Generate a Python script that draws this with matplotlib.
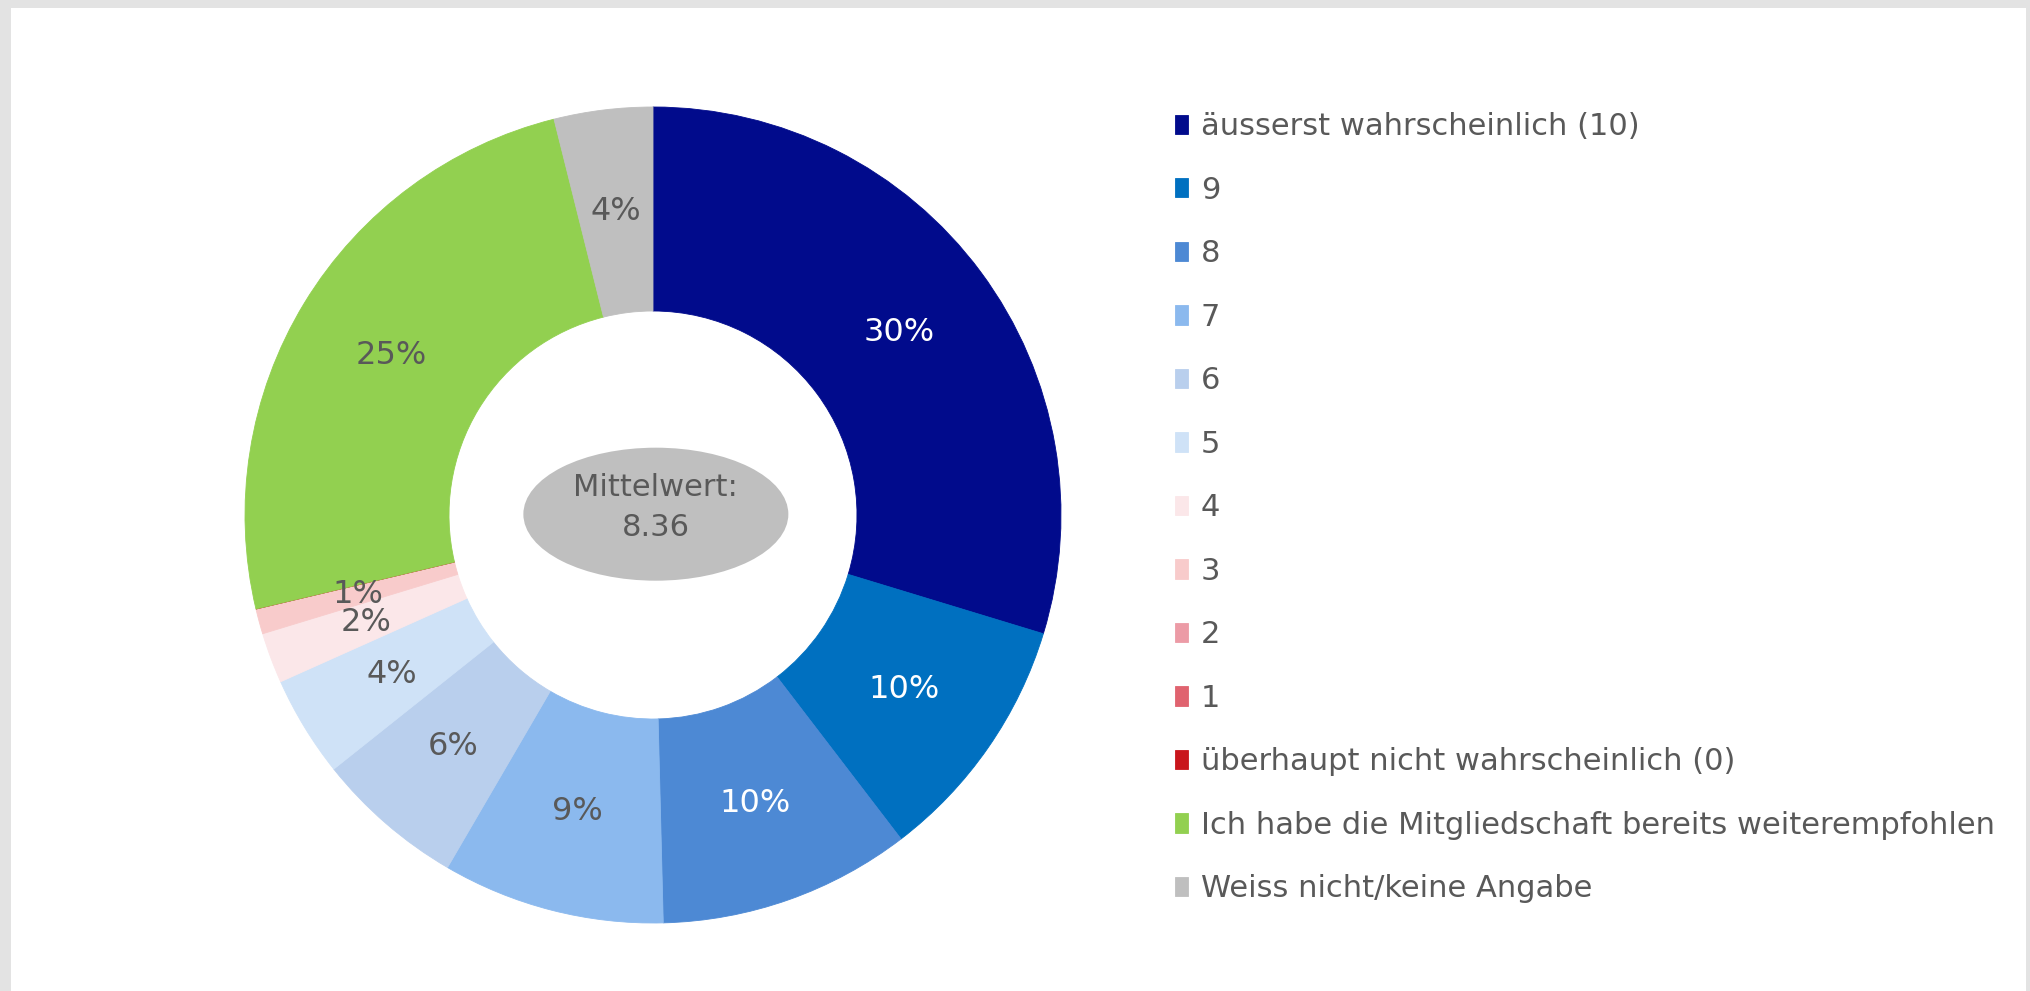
import matplotlib
matplotlib.use("Agg")
import matplotlib.pyplot as plt
from matplotlib.patches import Rectangle, Ellipse

categories = ["äusserst wahrscheinlich (10)", "9", "8", "7", "6", "5", "4", "3", "2", "1",
              "überhaupt nicht wahrscheinlich (0)",
              "Ich habe die Mitgliedschaft bereits weiterempfohlen",
              "Weiss nicht/keine Angabe"]
values = [29.7, 9.9, 10.0, 8.8, 5.9, 4.0, 2.0, 1.0, 0.0, 0.0, 0.0, 24.8, 3.9]
colors = ["#010B8C", "#0070C0", "#4D89D4", "#8BB9EE", "#B9CFED", "#CFE2F7", "#FBE7E9",
          "#F8CBCB", "#EC9BA6", "#E0636F", "#C9161C", "#92D050", "#BFBFBF"]
label_colors = ["white", "white", "white"] + ["#595959"] * 10
mean_text = "Mittelwert:\n8.36"

plt.rcParams['font.family'] = ['DejaVu Sans']
W, H = 2031, 991
fig = plt.figure(figsize=(W / 100, H / 100), dpi=100)
fig.patch.set_facecolor("#E3E3E3")
bg = Rectangle((11 / W, 0), (2026 - 11) / W, (H - 8) / H,
               transform=fig.transFigure, facecolor="white",
               edgecolor="none", zorder=-10)
fig.patches.append(bg)

cx, cy, R = 653, 515, 408
ax = fig.add_axes([(cx - R) / W, (H - cy - R) / H, 2 * R / W, 2 * R / H])
ax.set_zorder(1)
ax.patch.set_alpha(0)

wedges, texts, autotexts = ax.pie(
    values, colors=colors, startangle=90, counterclock=False, radius=1,
    wedgeprops=dict(width=0.5, linewidth=0.6),
    autopct=lambda p: f"{p:.0f}%" if p > 0.05 else "", pctdistance=0.75,
    textprops=dict(fontsize=23))
for w, c in zip(wedges, colors):
    w.set_edgecolor(c)
for t, c in zip(autotexts, label_colors):
    t.set_color(c)
ax.set_xlim(-1, 1)
ax.set_ylim(-1, 1)
ax.set_aspect("equal")
ax.axis("off")

ax.add_patch(Ellipse((0.007, 0.002), 265 / R, 133 / R, facecolor="#BFBFBF",
                     edgecolor="none", zorder=5))
ax.text(0.007, 0.018, mean_text, ha="center", va="center", fontsize=22,
        color="#595959", zorder=6, linespacing=1.45)

leg = fig.legend(wedges, categories, loc="upper left",
                 bbox_to_anchor=(1175 / W, 1 - 112 / H),
                 frameon=False, fontsize=22, labelcolor="#595959",
                 handlelength=0.42, handleheight=0.6, handletextpad=0.43,
                 labelspacing=1.13, borderpad=0, borderaxespad=0)
leg.set_zorder(2)

fig.savefig("out.png", dpi=100, facecolor=fig.get_facecolor())
